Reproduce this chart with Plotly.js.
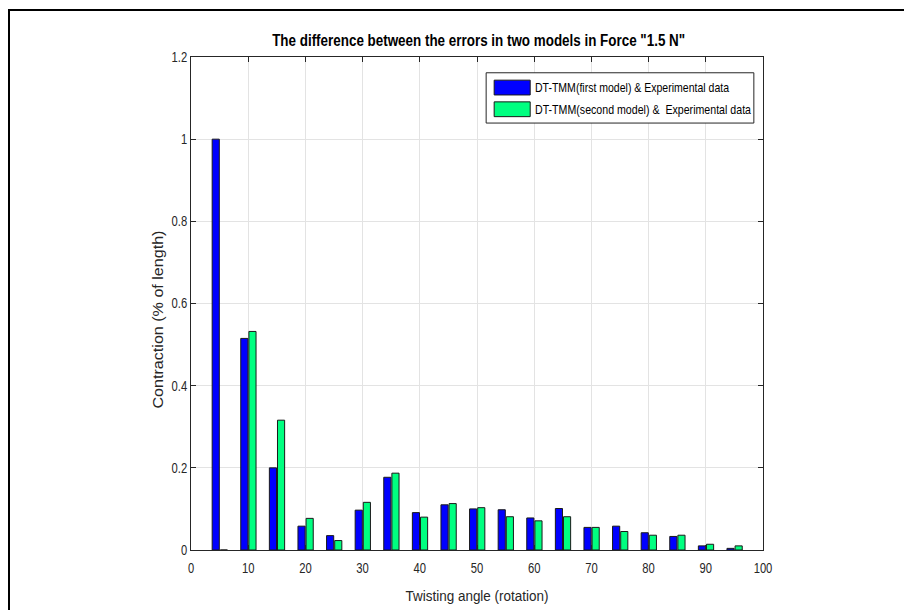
<!DOCTYPE html>
<html>
<head>
<meta charset="utf-8">
<script src="https://cdn.plot.ly/plotly-3.0.1.min.js"></script>
<style>
  html, body { margin: 0; padding: 0; background: #fff; }
  #chart { position: absolute; left: 0; top: 0; width: 904px; height: 610px; }
  #frame { position: absolute; left: 8px; top: 9px; right: 0; bottom: 0;
           border-left: 2px solid #000; border-top: 2px solid #000;
           pointer-events: none; z-index: 10; }
</style>
</head>
<body>
<div id="chart"></div>
<div id="frame"></div>
<script>
// Twisting angle (rotation) categories
const angles = [5, 10, 15, 20, 25, 30, 35, 40, 45, 50, 55, 60, 65, 70, 75, 80, 85, 90, 95];
// DT-TMM(first model) & Experimental data
const firstModel = [1.0, 0.515, 0.200, 0.058, 0.035, 0.097, 0.177, 0.091, 0.110, 0.100,
                    0.098, 0.078, 0.101, 0.055, 0.058, 0.042, 0.033, 0.010, 0.004];
// DT-TMM(second model) & Experimental data
const secondModel = [0.0, 0.532, 0.316, 0.077, 0.023, 0.116, 0.187, 0.080, 0.113, 0.103,
                     0.081, 0.071, 0.081, 0.055, 0.045, 0.036, 0.036, 0.014, 0.010];
const seriesNames = ['DT-TMM(first model) & Experimental data',
                     'DT-TMM(second model) &  Experimental data'];
const seriesColors = ['rgb(0,0,255)', 'rgb(0,255,128)'];

const sans = 'Liberation Sans, Arial, sans-serif';

const traces = [
  { type: 'bar', x: angles, y: firstModel, name: seriesNames[0],
    width: 1.25, offset: -1.3,
    marker: { color: seriesColors[0], line: { color: '#1a1a1a', width: 1 } } },
  { type: 'bar', x: angles, y: secondModel, name: seriesNames[1],
    width: 1.25, offset: 0.12,
    marker: { color: seriesColors[1], line: { color: '#1a1a1a', width: 1 } } }
];

// custom legend (MATLAB style wide swatches)
const lx0 = 0.516, lx1 = 0.984, ly0 = 0.866, ly1 = 0.968;
const sw = [[0.953, 0.923], [0.909, 0.879]];
const ty = [0.9385, 0.8925];
const shapes = [
  { type: 'rect', xref: 'paper', yref: 'paper', x0: lx0, x1: lx1, y0: ly0, y1: ly1,
    line: { color: '#262626', width: 1 }, fillcolor: 'white' }
];
const annotations = [];
for (let i = 0; i < 2; i++) {
  shapes.push({ type: 'rect', xref: 'paper', yref: 'paper', x0: 0.530, x1: 0.593,
    y0: sw[i][1], y1: sw[i][0], line: { color: '#1a1a1a', width: 1 }, fillcolor: seriesColors[i] });
  annotations.push({ xref: 'paper', yref: 'paper', x: 0.5975, y: ty[i], xanchor: 'left',
    yanchor: 'middle', showarrow: false, text: seriesNames[i],
    font: { family: sans, size: 13.5, color: '#000' } });
}

const layout = {
  width: 904, height: 610,
  margin: { l: 191, r: 141, t: 57, b: 60 },
  paper_bgcolor: 'white', plot_bgcolor: 'white',
  barmode: 'overlay',
  showlegend: false,
  title: { text: 'The difference between the errors in two models in Force "1.5 N"',
    x: 0.5295, xanchor: 'center', y: 0.934, yanchor: 'middle',
    font: { family: sans, size: 16, weight: 'bold', color: '#000' } },
  xaxis: {
    range: [0, 100], tick0: 0, dtick: 10, ticks: 'inside', ticklen: 5, tickcolor: '#262626',
    showline: true, linecolor: '#262626', linewidth: 1, mirror: 'allticks',
    showgrid: true, gridcolor: '#e3e3e3', zeroline: false, ticklabelstandoff: 5,
    tickfont: { family: sans, size: 14, color: '#262626' },
    title: { text: 'Twisting angle (rotation)', standoff: 15,
      font: { family: sans, size: 15.5, color: '#262626' } }
  },
  yaxis: {
    range: [0, 1.2], tick0: 0, dtick: 0.2, ticks: 'inside', ticklen: 5, tickcolor: '#262626',
    showline: true, linecolor: '#262626', linewidth: 1, mirror: 'allticks',
    showgrid: true, gridcolor: '#e3e3e3', zeroline: false,
    tickfont: { family: sans, size: 14, color: '#262626' },
    title: { text: 'Contraction (% of length)', standoff: 0,
      font: { family: sans, size: 15.5, color: '#262626' } }
  },
  shapes: shapes,
  annotations: annotations
};

function squeeze(el, factor, target, keepLeft) {
  const len = el.getComputedTextLength();
  if (!len) return;
  const w = target ? target : len * factor;
  el.setAttribute('textLength', w.toFixed(1));
  el.setAttribute('lengthAdjust', 'spacingAndGlyphs');
  if (keepLeft) {
    // text is centre-anchored: move it so its left edge stays in place
    const x = parseFloat(el.getAttribute('x') || '0');
    el.setAttribute('x', (x - (len - w) / 2).toFixed(1));
  }
}

Plotly.newPlot('chart', traces, layout, { displayModeBar: false, staticPlot: true }).then(function (gd) {
  gd.querySelectorAll('.xtick text, .ytick text').forEach(function (t) { squeeze(t, 0.8); });
  const title = gd.querySelector('.gtitle');
  if (title) squeeze(title, 0, 413);
  const xt = gd.querySelector('.xtitle');
  if (xt) squeeze(xt, 0, 143);
  const yt = gd.querySelector('.ytitle');
  if (yt) {
    squeeze(yt, 0, 178);
    const tr = yt.getAttribute('transform') || '';
    yt.setAttribute('transform', 'translate(0,16) ' + tr);
  }
  const ann = gd.querySelectorAll('.annotation-text');
  const targets = [194, 216];
  ann.forEach(function (t, i) { squeeze(t, 0.8, targets[i], true); });
});
</script>
</body>
</html>
